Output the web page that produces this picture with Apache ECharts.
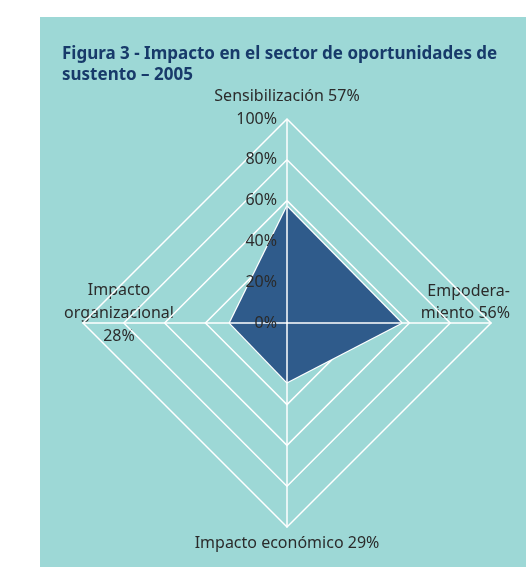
<!DOCTYPE html>
<html>
<head>
<meta charset="utf-8">
<script src="https://cdn.jsdelivr.net/npm/echarts@6/dist/echarts.min.js"></script>
<style>
  html, body { margin: 0; padding: 0; background: #fff; }
  #chart { width: 526px; height: 567px; }
</style>
</head>
<body>
<div id="chart"></div>
<script>
// indicator order as ECharts lays them out (top, left, bottom, right)
const indicatorNames = ['Sensibilización', 'Impacto organizacional', 'Impacto económico', 'Empoderamiento']
const impactValues = [57, 28, 29, 56]
const tickLabels = ['0%', '20%', '40%', '60%', '80%', '100%']

const chart = echarts.init(document.getElementById('chart'))
const font = 'Noto Sans'
const textColor = '#2b2b2b'
const labelFont = '16px "Noto Sans"'

// two radars on the same spot: rings under the area, axes + tick labels over it
const baseRadar = {
  center: [287, 323],
  radius: 204,
  startAngle: 90,
  shape: 'polygon',
  splitNumber: 5,
  axisName: { show: false },
  splitArea: { show: false },
  axisTick: { show: false },
  axisLabel: { show: false }
}

const option = {
  backgroundColor: '#fff',
  title: {
    text: 'Figura 3 - Impacto en el sector de oportunidades de\nsustento – 2005',
    left: 57,
    top: 39,
    textStyle: {
      fontFamily: font,
      fontSize: 17,
      fontWeight: 'bold',
      color: '#173a6a',
      lineHeight: 21
    }
  },
  graphic: [
    {
      type: 'rect',
      z: -10,
      shape: { x: 40, y: 17, width: 500, height: 560 },
      style: { fill: '#9dd8d6' }
    },
    {
      type: 'text', x: 287, y: 96,
      style: {
        text: indicatorNames[0] + ' ' + impactValues[0] + '%',
        align: 'center', verticalAlign: 'middle',
        font: labelFont, fill: textColor
      }
    },
    {
      type: 'text', x: 510, y: 302,
      style: {
        text: 'Empodera-\nmiento ' + impactValues[3] + '%',
        align: 'right', verticalAlign: 'middle', lineHeight: 22,
        font: labelFont, fill: textColor
      }
    },
    {
      type: 'text', x: 119, y: 313,
      style: {
        text: 'Impacto\norganizacional\n' + impactValues[1] + '%',
        align: 'center', verticalAlign: 'middle', lineHeight: 23,
        font: labelFont, fill: textColor
      }
    },
    {
      type: 'text', x: 287, y: 543,
      style: {
        text: indicatorNames[2] + ' ' + impactValues[2] + '%',
        align: 'center', verticalAlign: 'middle',
        font: labelFont, fill: textColor
      }
    }
  ],
  radar: [
    Object.assign({}, baseRadar, {
      z: 1,
      splitLine: { lineStyle: { color: '#fff', width: 1.5 } },
      axisLine: { show: false },
      indicator: indicatorNames.map((name) => ({ name: name, min: 0, max: 100 }))
    }),
    Object.assign({}, baseRadar, {
      z: 5,
      splitLine: { show: false },
      axisLine: { lineStyle: { color: '#fff', width: 1.5 } },
      indicator: indicatorNames.map((name, i) => {
        const ind = { name: name, min: 0, max: 100 }
        if (i === 0) {
          ind.axisLabel = {
            show: true,
            fontFamily: font,
            fontSize: 16,
            color: textColor,
            margin: 10,
            formatter: (v) => tickLabels[Math.round(v / 20)]
          }
        }
        return ind
      })
    })
  ],
  series: [{
    type: 'radar',
    radarIndex: 0,
    z: 2,
    symbol: 'none',
    lineStyle: { color: '#fff', width: 2.5 },
    areaStyle: { color: '#2f5b8b', opacity: 1 },
    data: [{ value: impactValues, name: 'Impacto' }]
  }]
}
chart.setOption(option)
</script>
</body>
</html>
